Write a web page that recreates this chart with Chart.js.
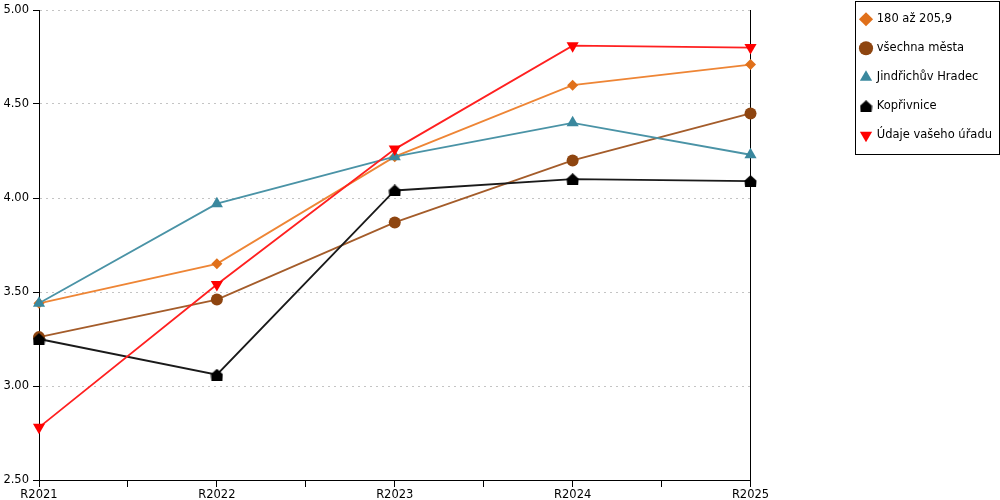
<!DOCTYPE html>
<html lang="cs">

<head>
  <meta charset="UTF-8">
  <title>Vývoj hodnocení</title>
  <script src="https://cdn.jsdelivr.net/npm/chart.js"></script>
  <style>
    body {
      margin: 0;
      background: #fff;
    }
  </style>
</head>

<body>
  <canvas id="trendChart" width="1000" height="500"></canvas>
  <script>
    const years = ['R2021', 'R2022', 'R2023', 'R2024', 'R2025'];

    const seriesNames = ['180 až 205,9', 'všechna města', 'Jindřichův Hradec', 'Kopřivnice', 'Údaje vašeho úřadu'];

    const groupValues = [3.44, 3.65, 4.22, 4.60, 4.71];      // 180 až 205,9
    const allCitiesValues = [3.26, 3.46, 3.87, 4.20, 4.45];  // všechna města
    const jhValues = [3.44, 3.97, 4.22, 4.40, 4.23];         // Jindřichův Hradec
    const koprivniceValues = [3.25, 3.06, 4.04, 4.10, 4.09]; // Kopřivnice
    const officeValues = [2.78, 3.54, 4.26, 4.81, 4.80];     // Údaje vašeho úřadu

    const yMin = 2.5;
    const yMax = 5;

    // house-like marker for Kopřivnice (Chart.js has no such point style)
    function makeHouse(color) {
      const c = document.createElement('canvas');
      c.width = 13;
      c.height = 12;
      const g = c.getContext('2d');
      g.fillStyle = color;
      g.beginPath();
      g.moveTo(6.5, 0);
      g.lineTo(12.5, 5.5);
      g.lineTo(12, 12);
      g.lineTo(1, 12);
      g.lineTo(0.5, 5.5);
      g.closePath();
      g.fill();
      return c;
    }

    const toPoints = (values) => values.map((v, i) => ({ x: i, y: v }));

    function makeDataset(idx, values, color, lineColor, style, radius, rotation) {
      return {
        label: seriesNames[idx],
        data: toPoints(values),
        borderColor: lineColor,
        backgroundColor: color,
        borderWidth: 1.8,
        pointStyle: style,
        pointRadius: radius,
        pointHoverRadius: radius,
        pointRotation: rotation || 0,
        pointBackgroundColor: color,
        pointBorderColor: color,
        pointBorderWidth: 0,
        tension: 0,
        clip: false,
        order: 10 - idx, // later series drawn on top
      };
    }

    const legendBorder = {
      id: 'legendBorder',
      afterLayout(chart) {
        // move legend a bit up and to the right
        chart.legend.top -= 4;
        chart.legend.bottom -= 4;
        chart.legend.left += 2;
        chart.legend.right += 2;
      },
      afterDraw(chart) {
        const hb = chart.legend.legendHitBoxes;
        if (!hb || !hb.length) return;
        const ctx = chart.ctx;
        const first = hb[0];
        const last = hb[hb.length - 1];
        const x0 = Math.round(first.left - 6) + 0.5;
        const y0 = Math.round(first.top - 13) + 0.5;
        const x1 = Math.min(Math.round(first.left + 139), chart.width - 1) + 0.5;
        const y1 = Math.round(last.top + last.height + 13) + 0.5;
        ctx.save();
        ctx.strokeStyle = '#000';
        ctx.lineWidth = 1;
        ctx.strokeRect(x0, y0, x1 - x0, y1 - y0);
        ctx.restore();
      }
    };

    const tickFont = { family: 'DejaVu Sans', size: 11.5 };

    new Chart(document.getElementById('trendChart').getContext('2d'), {
      type: 'line',
      data: {
        datasets: [
          makeDataset(0, groupValues, '#E0701A', '#EE8535', 'rectRot', 5.5),
          makeDataset(1, allCitiesValues, '#8E4510', '#A45C2A', 'circle', 6),
          makeDataset(2, jhValues, '#3A889E', '#4A93A6', 'triangle', 7),
          makeDataset(3, koprivniceValues, '#000000', '#1a1a1a', makeHouse('#000'), 6),
          makeDataset(4, officeValues, '#FF0000', '#FF2020', 'triangle', 7, 180),
        ],
      },
      options: {
        responsive: false,
        maintainAspectRatio: false,
        animation: false,
        layout: {
          padding: { top: 0, right: 0, bottom: 0, left: 0 },
        },
        plugins: {
          tooltip: { enabled: false },
          legend: {
            position: 'right',
            align: 'start',
            labels: {
              usePointStyle: true,
              boxWidth: 10,
              boxHeight: 10,
              padding: 17.5,
              color: '#000',
              font: { family: 'DejaVu Sans', size: 11.5 },
              sort: (a, b) => a.datasetIndex - b.datasetIndex,
            },
          },
        },
        scales: {
          x: {
            type: 'linear',
            min: 0,
            max: years.length - 1,
            ticks: {
              stepSize: 0.5,
              autoSkip: false,
              maxRotation: 0,
              padding: 1,
              color: '#000',
              font: tickFont,
              callback: (v) => (Number.isInteger(v) ? years[v] : ''),
            },
            grid: {
              display: true,
              drawOnChartArea: false,
              drawTicks: true,
              tickLength: 7,
              color: '#000',
            },
            border: { color: '#000', width: 1 },
            afterFit: (axis) => { axis.height = 20; },
          },
          y: {
            min: yMin,
            max: yMax,
            ticks: {
              stepSize: 0.5,
              padding: 4,
              color: '#000',
              font: tickFont,
              callback: (v) => v.toFixed(2),
            },
            grid: {
              color: '#c4c4c4',
              tickColor: '#000',
              tickLength: 6,
            },
            border: { color: '#000', width: 1, dash: [2, 4] },
            afterFit: (axis) => {
              axis.width = 39;
              axis.paddingTop = 10;
            },
          },
          y2: {
            position: 'right',
            min: 0,
            max: 1,
            ticks: { display: false },
            grid: { display: false, drawTicks: false },
            border: { color: '#000', width: 1 },
            afterFit: (axis) => { axis.width = 91; },
          },
        },
      },
      plugins: [legendBorder],
    });
  </script>
</body>

</html>
